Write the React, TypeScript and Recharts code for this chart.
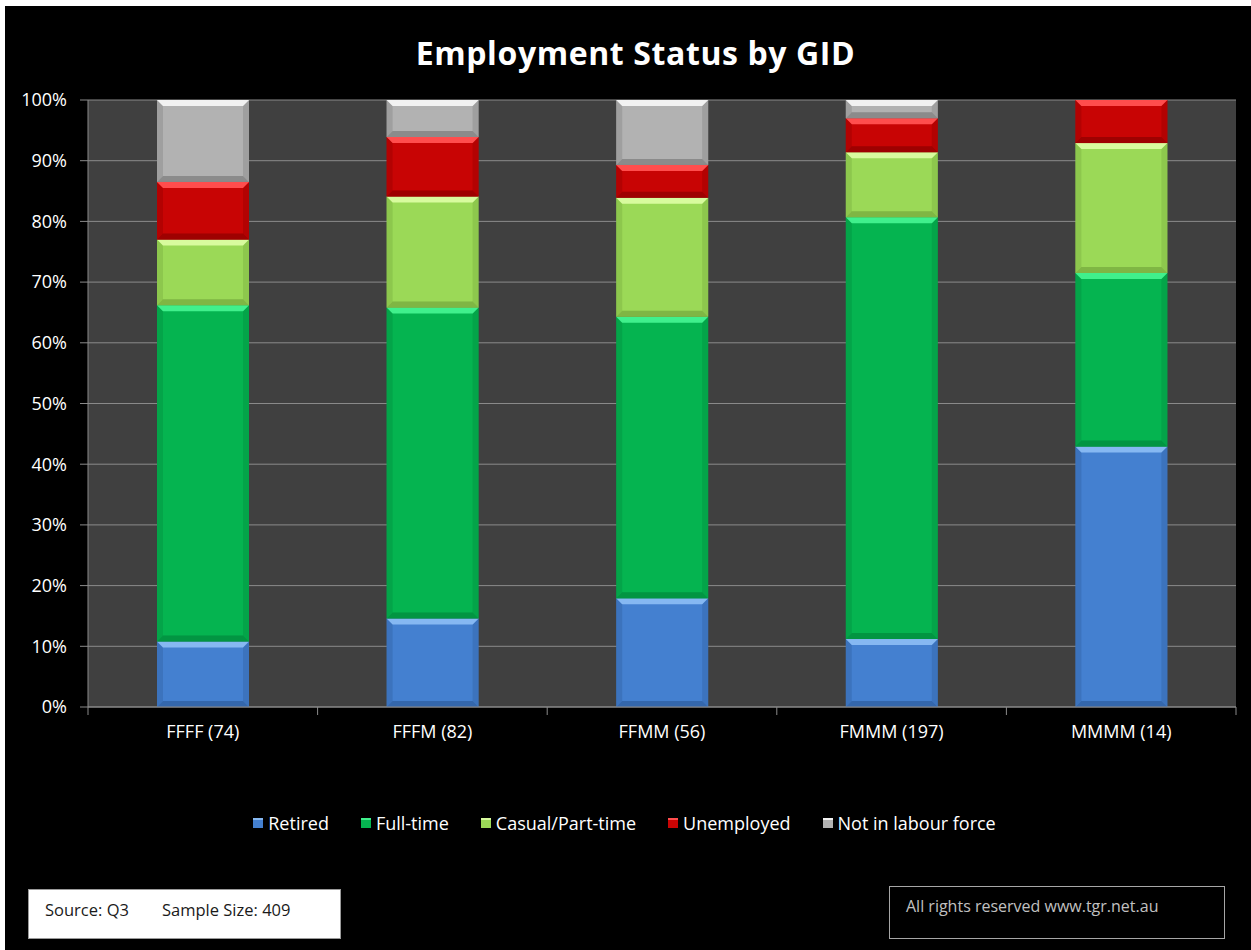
import React from 'react';
import { BarChart, Bar, XAxis, YAxis, CartesianGrid, Legend } from 'recharts';

// GID groups (sample size in brackets)
const categories = ['FFFF (74)', 'FFFM (82)', 'FFMM (56)', 'FMMM (197)', 'MMMM (14)'];

// share of each group, in %
const retired = [10.8, 14.6, 17.9, 11.2, 42.9];
const fullTime = [55.4, 51.2, 46.4, 69.5, 28.6];
const casual = [10.8, 18.3, 19.6, 10.7, 21.4];
const unemployed = [9.5, 9.8, 5.4, 5.6, 7.1];
const notInLabour = [13.5, 6.1, 10.7, 3.0, 0];

const yTicks = [0, 10, 20, 30, 40, 50, 60, 70, 80, 90, 100];

const rows = categories.map((name, i) => ({
  name,
  retired: retired[i],
  fullTime: fullTime[i],
  casual: casual[i],
  unemployed: unemployed[i],
  notInLabour: notInLabour[i],
}));

const SERIES = [
  { key: 'retired', label: 'Retired', base: '#4480d0', light: '#86b8f2', dark: '#2d5c9c' },
  { key: 'fullTime', label: 'Full-time', base: '#05b450', light: '#40f08c', dark: '#02883c' },
  { key: 'casual', label: 'Casual/Part-time', base: '#9bd957', light: '#d8fb9e', dark: '#73a63c' },
  { key: 'unemployed', label: 'Unemployed', base: '#c80404', light: '#ff4d4d', dark: '#8c0000' },
  { key: 'notInLabour', label: 'Not in labour force', base: '#b2b2b2', light: '#f2f2f2', dark: '#7a7a7a' },
];

const W = 1251;
const H = 950;
const PLOT_LEFT = 88;
const PLOT_RIGHT = 1236;
const BAND = (PLOT_RIGHT - PLOT_LEFT) / categories.length;
const FONT = '"Open Sans", sans-serif';

// bevelled bar segment, like the Excel 2007 preset
const bevel = (s: typeof SERIES[number]) => (props: any) => {
  const { x, y, width, height } = props;
  if (!height || height <= 0) return <g />;
  const b = Math.min(6, height / 2);
  const x2 = x + width;
  const y2 = y + height;
  return (
    <g>
      <rect x={x} y={y} width={width} height={height} fill={s.base} />
      <polygon points={`${x},${y2} ${x2},${y2} ${x2 - b},${y2 - b} ${x + b},${y2 - b}`} fill={s.dark} opacity={0.7} />
      <polygon points={`${x},${y} ${x + b},${y + b} ${x + b},${y2 - b} ${x},${y2}`} fill={s.dark} opacity={0.35} />
      <polygon points={`${x2},${y} ${x2 - b},${y + b} ${x2 - b},${y2 - b} ${x2},${y2}`} fill={s.dark} opacity={0.35} />
      <polygon points={`${x},${y} ${x2},${y} ${x2 - b},${y + b} ${x + b},${y + b}`} fill={s.light} />
    </g>
  );
};

const XTick = (props: any) => {
  const { x, y, payload, index } = props;
  const left = x - BAND / 2;
  return (
    <g>
      <line x1={left} y1={y} x2={left} y2={y + 8} stroke="#8a8a8a" />
      {index === categories.length - 1 && (
        <line x1={x + BAND / 2} y1={y} x2={x + BAND / 2} y2={y + 8} stroke="#8a8a8a" />
      )}
      <text x={x} y={y + 31} textAnchor="middle" fill="#ffffff" fontSize={18} fontWeight={500} fontFamily={FONT}>
        {payload.value}
      </text>
    </g>
  );
};

const LegendBox = () => (
  <div style={{ display: 'flex', justifyContent: 'center', alignItems: 'center', height: 30, paddingLeft: 30, fontFamily: FONT, fontSize: 18, fontWeight: 500, color: '#ffffff' }}>
    {SERIES.map((s) => (
      <div key={s.key} style={{ display: 'flex', alignItems: 'center', marginRight: 32 }}>
        <span style={{ display: 'inline-block', width: 10, height: 10, background: s.base, marginRight: 5, boxShadow: `inset 0 2px 0 ${s.light}` }} />
        <span>{s.label}</span>
      </div>
    ))}
  </div>
);

export default function App() {
  return (
    <div style={{ position: 'absolute', left: 0, top: 0, width: W, height: H, background: '#ffffff' }}>
      <div style={{ position: 'absolute', left: 5, top: 6, right: 0, bottom: 0, background: '#000000' }} />
      <div style={{ position: 'absolute', left: 0, top: 0 }}>
        <BarChart width={W} height={H} data={rows} margin={{ top: 100, right: W - PLOT_RIGHT, bottom: 0, left: 0 }} barSize={92}>
          <CartesianGrid vertical={false} stroke="#8a8a8a" fill="#404040" fillOpacity={1} />
          <XAxis
            dataKey="name"
            height={213}
            axisLine={{ stroke: '#8a8a8a' }}
            tickLine={false}
            tickSize={0}
            tickMargin={0}
            tick={<XTick />}
            interval={0}
          />
          <YAxis
            width={PLOT_LEFT}
            domain={[0, 100]}
            ticks={yTicks}
            allowDataOverflow
            tickFormatter={(v) => `${v}%`}
            axisLine={{ stroke: '#8a8a8a' }}
            tickLine={{ stroke: '#8a8a8a' }}
            tickSize={8}
            tickMargin={13}
            tick={{ fill: '#ffffff', fontSize: 18, fontWeight: 500, fontFamily: FONT }}
          />
          <Legend
            verticalAlign="bottom"
            height={30}
            content={<LegendBox />}
            wrapperStyle={{ top: 808, bottom: 'auto', left: 0, width: W }}
          />
          {SERIES.map((s) => (
            <Bar key={s.key} dataKey={s.key} name={s.label} stackId="gid" fill={s.base} shape={bevel(s)} isAnimationActive={false} />
          ))}
        </BarChart>
      </div>
      <div style={{ position: 'absolute', left: 10, width: W, top: 30, textAlign: 'center', color: '#ffffff', fontFamily: FONT, fontWeight: 700, fontSize: 32, letterSpacing: 0.6, lineHeight: '46px' }}>
        Employment Status by GID
      </div>
      <div style={{ position: 'absolute', left: 28, top: 889, width: 311, height: 48, background: '#ffffff', border: '1px solid #9a9a9a', fontFamily: FONT, fontSize: 16.5, color: '#1a1a1a' }}>
        <span style={{ position: 'absolute', left: 16, top: 8 }}>Source: Q3</span>
        <span style={{ position: 'absolute', left: 133, top: 8 }}>Sample Size: 409</span>
      </div>
      <div style={{ position: 'absolute', left: 889, top: 886, width: 334, height: 51, border: '1px solid #a6a6a6', fontFamily: FONT, fontSize: 16, color: '#c0c0c0' }}>
        <span style={{ position: 'absolute', left: 16, top: 8 }}>All rights reserved www.tgr.net.au</span>
      </div>
    </div>
  );
}
